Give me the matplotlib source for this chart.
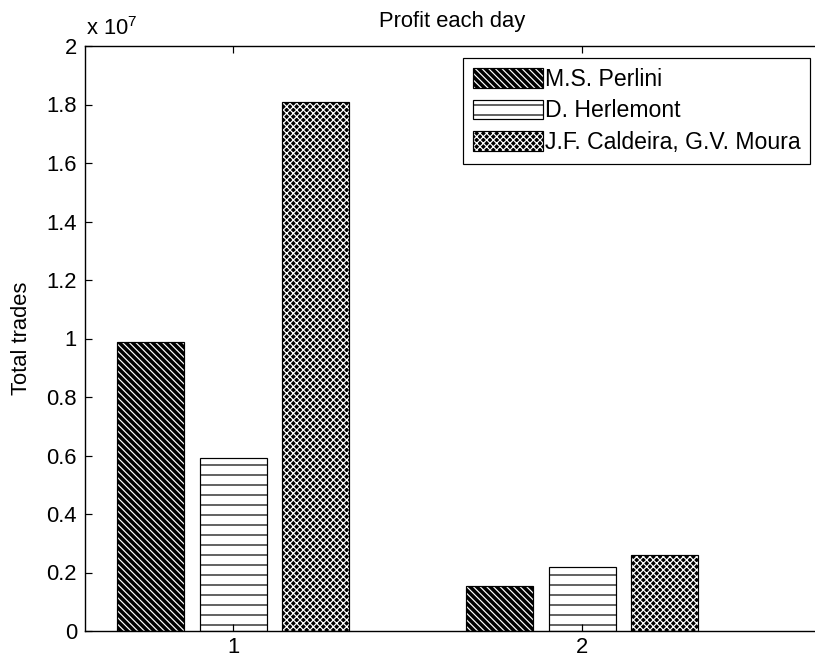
import numpy as np
import matplotlib.pyplot as plt
from matplotlib.colors import to_rgba

# данные (в единицах 1e7)
groups = [1, 2]
series = ["M.S. Perlini", "D. Herlemont", "J.F. Caldeira, G.V. Moura"]
perlini = [0.989, 0.154]
herlemont = [0.5925, 0.218]
caldeira = [1.808, 0.259]
yticks = [0, 0.2, 0.4, 0.6, 0.8, 1, 1.2, 1.4, 1.6, 1.8, 2]
ytick_labels = ["0", "0.2", "0.4", "0.6", "0.8", "1", "1.2", "1.4", "1.6", "1.8", "2"]

values = [perlini, herlemont, caldeira]
faces = ["black", "white", "black"]
hatch_col = ["white", "black", "white"]
hatches = ["\\\\\\\\\\\\", "--", "xxxxxx"]
offsets = [-0.236, 0.0, 0.236]
width = 0.192

DPI = 120
F = 72 / DPI  # px -> pt
FS = 22 * F

plt.rcParams['font.family'] = ['Liberation Sans', 'DejaVu Sans']
plt.rcParams['mathtext.fontset'] = 'custom'
plt.rcParams['mathtext.rm'] = 'Liberation Sans'
plt.rcParams['hatch.linewidth'] = 1.2 * F

fig = plt.figure(figsize=(815 / DPI, 661 / DPI), dpi=DPI)
ax = fig.add_axes([85 / 815, 30 / 661, 745 / 815, 585 / 661])

x = np.array(groups, dtype=float)
for vals, fc, hc, h, off, lab in zip(values, faces, hatch_col, hatches, offsets, series):
    b = ax.bar(x + off, vals, width, color=fc, edgecolor="black", linewidth=1.2 * F, label=lab)
    for p in b:
        p.set_hatch(h)
        p._hatch_color = to_rgba(hc)

ax.set_xlim(0.576, 2.71)
ax.set_ylim(0, 2)
ax.set_xticks(groups)
ax.set_yticks(yticks)
ax.set_yticklabels(ytick_labels)
ax.tick_params(direction="in", labelsize=FS, length=7 * F, width=1.2 * F, top=True, right=False)
ax.tick_params(axis="y", pad=8 * F)
ax.tick_params(axis="x", pad=6 * F)
ax.spines["right"].set_visible(False)
for s in ax.spines.values():
    s.set_linewidth(1.4 * F)

ax.set_ylabel("Total trades", fontsize=FS)
ax.yaxis.set_label_coords((32 - 85) / 745, 0.5)
ax.set_title("Profit each day", fontsize=FS, x=(452 - 85) / 745, pad=19 * F)

# множитель оси
ax.text(1 / 745, 11 / 585 + 1, r"x 10$^{\mathregular{7}}$", transform=ax.transAxes,
        fontsize=FS, ha="left", va="baseline")

leg = ax.legend(loc="upper left", bbox_to_anchor=((463 - 85) / 745, 1 - 12 / 585),
                fontsize=23 * F, fancybox=False, edgecolor="black", framealpha=1,
                handlelength=3.05, handleheight=0.95, handletextpad=0.1,
                borderaxespad=0, labelspacing=0.38, borderpad=0.42)
leg.get_frame().set_linewidth(1.2 * F)

fig.savefig("out.png", dpi=DPI)
